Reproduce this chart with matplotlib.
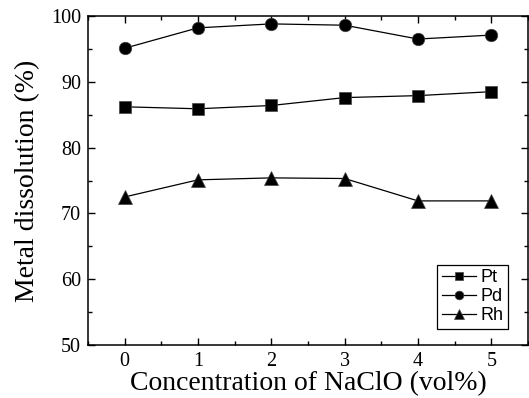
import matplotlib
matplotlib.use("Agg")
import matplotlib.pyplot as plt
from matplotlib.ticker import MultipleLocator

x = [0, 1, 2, 3, 4, 5]
pt = [86.2, 85.9, 86.4, 87.6, 87.9, 88.5]
pd_ = [95.1, 98.2, 98.8, 98.6, 96.5, 97.1]
rh = [72.5, 75.1, 75.4, 75.3, 71.9, 71.9]

fig = plt.figure(figsize=(5.29, 3.98), dpi=100)
ax = fig.add_axes([88/529, 1-345/398, (528-88)/529, (345-16)/398])

kw = dict(color='black', lw=0.9, markeredgecolor='#444444', markeredgewidth=0.5)
ax.plot(x, pt, marker='s', ms=8.5, label='Pt', **kw)
ax.plot(x, pd_, marker='o', ms=9, label='Pd', **kw)
ax.plot(x, rh, marker='^', ms=9.5, label='Rh', **kw)

ax.set_xlim(-0.5, 5.5)
ax.set_ylim(50, 100)
ax.xaxis.set_major_locator(MultipleLocator(1))
ax.xaxis.set_minor_locator(MultipleLocator(0.5))
ax.yaxis.set_major_locator(MultipleLocator(10))
ax.yaxis.set_minor_locator(MultipleLocator(5))
ax.tick_params(which='both', direction='in', top=True, right=True, width=1)
ax.tick_params(which='major', length=5, pad=5)
ax.tick_params(which='minor', length=3)
for s in ax.spines.values():
    s.set_linewidth(1.1)

serif = ['Liberation Serif', 'DejaVu Serif']
for lab in ax.get_xticklabels() + ax.get_yticklabels():
    lab.set_fontfamily(serif)
    lab.set_fontsize(14.5)
ax.set_xlabel('Concentration of NaClO (vol%)', fontfamily=serif, fontsize=20, labelpad=0)
ax.set_ylabel('Metal dissolution (%)', fontfamily=serif, fontsize=20, labelpad=8)

leg = ax.legend(loc='lower right', bbox_to_anchor=(0.955, 0.05), prop={'family': 'Liberation Sans', 'size': 13},
                fancybox=False, edgecolor='black', framealpha=1, handlelength=1.9,
                markerscale=0.7, handletextpad=0.25, borderpad=0.25, labelspacing=0.1,
                borderaxespad=0)
leg.get_frame().set_linewidth(0.9)

fig.savefig('out.png', dpi=100)
